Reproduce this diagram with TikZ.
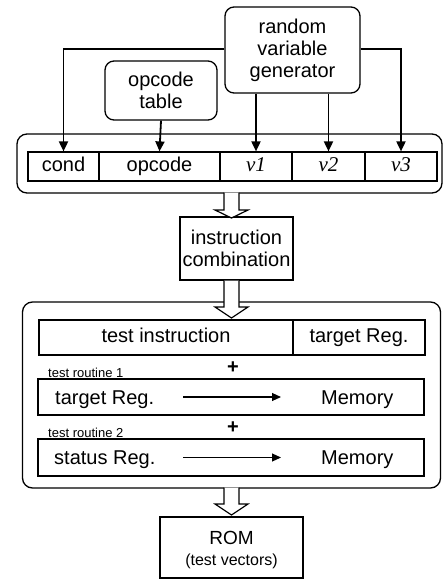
\documentclass[tikz,border=0pt]{standalone}
\usepackage{fontspec}
\setmainfont{Liberation Sans}
\newfontfamily\serifit{Liberation Serif}
\usetikzlibrary{arrows.meta,calc}
\tikzset{
  rbox/.style={draw, line width=1.3pt, rounded corners=9pt, align=center, inner sep=0pt,
    font=\fontsize{20}{22}\selectfont},
  sbox/.style={draw, line width=1.2pt, align=center, inner sep=0pt,
    font=\fontsize{20}{22}\selectfont},
  oneline/.style={sbox, text height=14.5pt, text depth=4pt},
  frame/.style={draw, line width=1.3pt, rounded corners=10pt, inner sep=0pt},
  conn/.style={line width=1.8pt, -{Triangle[length=10pt,width=9pt]}},
  flow/.style={line width=1.1pt, -{Triangle[length=9pt,width=8pt]}},
  harrow/.style={draw, line width=1.2pt, fill=white},
  lbl/.style={inner sep=0pt, font=\fontsize{20}{22}\selectfont},
  small/.style={inner sep=0pt, font=\fontsize{13}{14}\selectfont},
  vfield/.style={oneline, font=\fontsize{21}{22}\selectfont\serifit\itshape},
}
\newcommand\hollowarrow[3]{%
  \path[harrow] let \p1=(#1), \p2=(#2) in
    (\x1-7.5pt,\y1) -- (\x1-7.5pt,\y2+#3) -- (\x1-16.5pt,\y2+#3) -- (\x1,\y2)
    -- (\x1+16.5pt,\y2+#3) -- (\x1+7.5pt,\y2+#3) -- (\x1+7.5pt,\y1);}
\begin{document}
\begin{tikzpicture}[x=1pt,y=-1pt]
\useasboundingbox[fill=white] (0,0) rectangle (443,579);

% top frame
\node[frame, minimum width=425pt, minimum height=59pt] (top) at (229.5,163.5) {};
\node[rbox, minimum width=135pt, minimum height=86pt] (rvg) at (292.5,50) {random\\variable\\generator};
\node[rbox, minimum width=112pt, minimum height=59pt] (opt) at (161,90.5) {opcode\\table};

\node[oneline, minimum width=71pt, minimum height=29pt] (cond) at (63.5,166.5) {cond};
\node[oneline, minimum width=121pt, minimum height=29pt] (opc) at (159.5,166.5) {opcode};
\node[vfield, minimum width=72pt, minimum height=29pt] (v1) at (256,166.5) {v1};
\node[vfield, minimum width=73pt, minimum height=29pt] (v2) at (328.5,166.5) {v2};
\node[vfield, minimum width=72pt, minimum height=29pt] (v3) at (401,166.5) {v3};

\coordinate (rl) at (rvg.west |- 0,49);
\coordinate (rr) at (rvg.east |- 0,49);
\draw[conn] (rl) -| (cond.north);
\draw[conn] (opt.south) -- (opc.north);
\draw[conn] (rvg.south -| v1.north) -- (v1.north);
\draw[conn] (rvg.south -| v2.north) -- (v2.north);
\draw[conn] (rr) -| (v3.north);

% instruction combination
\node[sbox, minimum width=113pt, minimum height=63pt] (ic) at (236.5,248.5) {instruction\\combination};

% bottom frame
\node[frame, minimum width=418pt, minimum height=186pt] (bot) at (231.5,395) {};
\node[oneline, minimum width=254pt, minimum height=35pt] (ti) at (166,337.5) {test instruction};
\node[oneline, minimum width=132pt, minimum height=35pt] (tr) at (359,337.5) {target Reg.};
\node[lbl, font=\fontsize{20}{22}\selectfont\bfseries] (p1) at (233,368) {+};
\node[small, anchor=base west] (r1) at (48,377) {test routine 1};
\node[sbox, minimum width=386pt, minimum height=36pt] (row1) at (231,397) {};
\node[lbl, anchor=base west] (t1) at (55,404) {target Reg.};
\node[lbl, anchor=base west] (m1) at (321,404) {Memory};
\coordinate (a1s) at (183,397);
\coordinate (a1e) at (281,397);
\draw[flow] (a1s) -- (a1e);
\node[lbl, font=\fontsize{20}{22}\selectfont\bfseries] (p2) at (233,428) {+};
\node[small, anchor=base west] (r2) at (48,437) {test routine 2};
\node[sbox, minimum width=386pt, minimum height=37pt] (row2) at (231,457.5) {};
\node[lbl, anchor=base west] (t2) at (54,464.5) {status Reg.};
\node[lbl, anchor=base west] (m2) at (321,464.5) {Memory};
\coordinate (a2s) at (183,457.5);
\coordinate (a2e) at (281,457.5);
\draw[flow] (a2s) -- (a2e);

% ROM
\node[sbox, minimum width=143pt, minimum height=61pt] (rom) at (231.5,547.5) {};
\node[lbl, font=\fontsize{19}{21}\selectfont] (romt) at (231.5,538) {ROM};
\node[lbl, font=\fontsize{16}{18}\selectfont] (romv) at (231.5,561) {(test vectors)};

% hollow arrows
\coordinate (h1a) at (231.5,192.5);
\coordinate (h1b) at (231.5,218);
\hollowarrow{h1a}{h1b}{8pt}
\coordinate (h2a) at (231.5,280.5);
\coordinate (h2b) at (231.5,318);
\hollowarrow{h2a}{h2b}{11pt}
\coordinate (h3a) at (231.5,487.5);
\coordinate (h3b) at (231.5,515);
\hollowarrow{h3a}{h3b}{11pt}
\end{tikzpicture}
\end{document}
